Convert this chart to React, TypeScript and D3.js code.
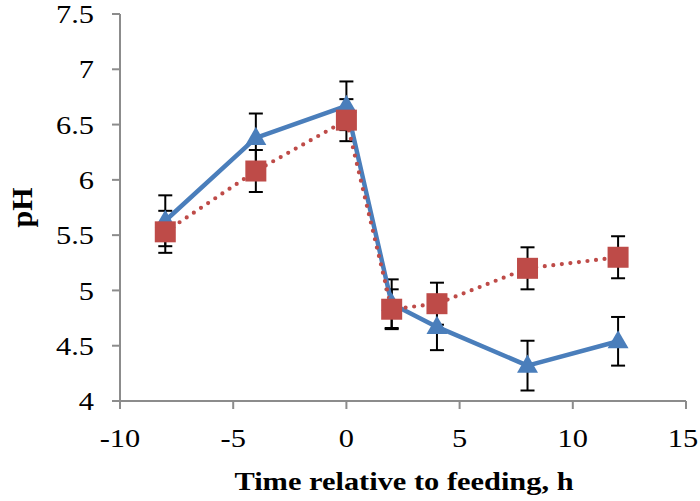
import React from "react";
import * as d3 from "d3";

const times = [-8, -4, 0, 2, 4, 8, 12];
const blueValues = [5.63, 6.38, 6.67, 4.88, 4.67, 4.32, 4.54];
const blueErrors = [0.23, 0.22, 0.22, 0.22, 0.21, 0.225, 0.22];
const redValues = [5.53, 6.08, 6.54, 4.83, 4.88, 5.2, 5.3];
const redErrors = [0.19, 0.19, 0.19, 0.18, 0.19, 0.19, 0.19];
const xTicks = [-10, -5, 0, 5, 10, 15];
const yTicks = [4, 4.5, 5, 5.5, 6, 6.5, 7, 7.5];

const W = 700;
const H = 501;
const FONT = "Liberation Serif";
const AXIS = "#8c8c8c";
const BLUE = "#4a7ebb";
const RED = "#be4b48";
const SX = 1.17;

export default function App() {
  const x = d3.scaleLinear().domain([-10, 15]).range([120, 686]);
  const y = d3.scaleLinear().domain([4, 7.5]).range([401, 14]);

  const line = d3
    .line<number>()
    .x((_, i) => x(times[i]))
    .y((d) => y(d));

  const tri = d3.symbol().type(d3.symbolTriangle).size(190)();
  const capW = 7;

  const errorBars = (vals: number[], errs: number[], key: string) =>
    vals.map((v, i) => {
      const cx = x(times[i]);
      const y1 = y(v + errs[i]);
      const y2 = y(v - errs[i]);
      return (
        <g key={key + i} stroke="#000" strokeWidth={2}>
          <line x1={cx} x2={cx} y1={y1} y2={y2} />
          <line x1={cx - capW} x2={cx + capW} y1={y1} y2={y1} />
          <line x1={cx - capW} x2={cx + capW} y1={y2} y2={y2} />
        </g>
      );
    });

  return (
    <svg
      width={W}
      height={H}
      style={{ position: "absolute", left: 0, top: 0, background: "#fff" }}
      fontFamily={FONT}
    >
      {/* axes */}
      <line x1={120} x2={120} y1={y(7.5)} y2={y(4)} stroke={AXIS} strokeWidth={2} />
      <line x1={x(-10)} x2={x(15)} y1={401} y2={401} stroke={AXIS} strokeWidth={2} />
      {yTicks.map((t) => (
        <g key={"yt" + t}>
          <line x1={112} x2={120} y1={y(t)} y2={y(t)} stroke={AXIS} strokeWidth={2} />
          <text
            transform={`translate(94,${y(t)}) scale(${SX},1)`}
            dy="0.35em"
            textAnchor="end"
            fontSize={26}
            fill="#000"
          >
            {String(t)}
          </text>
        </g>
      ))}
      {xTicks.map((t) => (
        <g key={"xt" + t}>
          <line x1={x(t)} x2={x(t)} y1={401} y2={409} stroke={AXIS} strokeWidth={2} />
          <text
            transform={`translate(${Math.min(x(t), 683)},447) scale(${SX},1)`}
            textAnchor="middle"
            fontSize={26}
            fill="#000"
          >
            {String(t)}
          </text>
        </g>
      ))}
      <text
        transform={`translate(404,490) scale(${SX},1)`}
        textAnchor="middle"
        fontSize={26}
        fontWeight="bold"
        fill="#000"
      >
        Time relative to feeding, h
      </text>
      <text
        transform={`translate(32,${(14 + 401) / 2}) rotate(-90)`}
        textAnchor="middle"
        fontSize={30}
        fontWeight="bold"
        fill="#000"
      >
        pH
      </text>

      {/* error bars */}
      {errorBars(blueValues, blueErrors, "be")}
      {errorBars(redValues, redErrors, "re")}

      {/* lines */}
      <path d={line(blueValues) || ""} fill="none" stroke={BLUE} strokeWidth={4.5} strokeLinejoin="round" />
      <path
        d={line(redValues) || ""}
        fill="none"
        stroke={RED}
        strokeWidth={4.2}
        strokeDasharray="0 8.6"
        strokeLinecap="round"
      />

      {/* markers */}
      {blueValues.map((v, i) => (
        <path
          key={"bm" + i}
          d={tri || ""}
          transform={`translate(${x(times[i])},${y(v) + 1})`}
          fill={BLUE}
        />
      ))}
      {redValues.map((v, i) => (
        <rect
          key={"rm" + i}
          x={x(times[i]) - 10.5}
          y={y(v) - 10.5}
          width={21}
          height={21}
          fill={RED}
        />
      ))}
    </svg>
  );
}
